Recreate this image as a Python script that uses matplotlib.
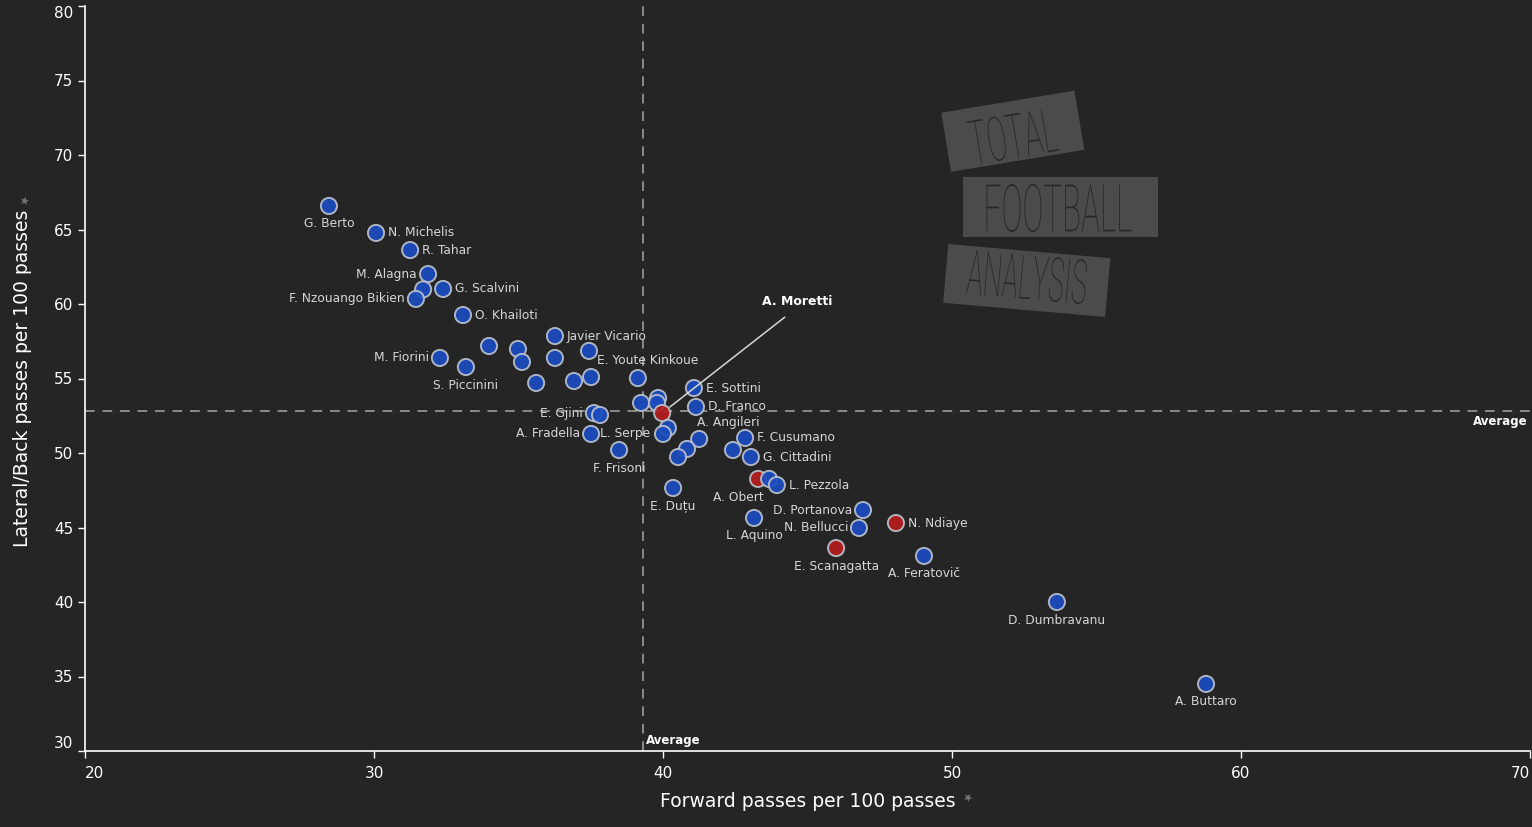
import matplotlib
matplotlib.use("Agg")
import matplotlib.pyplot as plt
from matplotlib.patches import Rectangle, PathPatch
from matplotlib.textpath import TextPath
from matplotlib.font_manager import FontProperties
from matplotlib.transforms import Affine2D

# ---------------- data ----------------
names = ["G. Berto", "N. Michelis", "R. Tahar", "M. Alagna", "", "G. Scalvini",
         "F. Nzouango Bikien", "O. Khailoti", "Javier Vicario", "", "", "", "", "",
         "M. Fiorini", "S. Piccinini", "", "", "", "E. Youte Kinkoue",
         "E. Sottini", "D. Franco", "", "", "", "A. Moretti", "E. Gjini", "L. Serpe",
         "A. Fradella", "", "", "F. Frisoni", "A. Angileri", "", "", "F. Cusumano",
         "", "G. Cittadini", "E. Duțu", "A. Obert", "", "L. Pezzola", "D. Portanova",
         "N. Bellucci", "L. Aquino", "N. Ndiaye", "E. Scanagatta", "A. Feratovič",
         "D. Dumbravanu", "A. Buttaro"]
forward = [28.44, 30.07, 31.25, 31.87, 31.70, 32.39,
           31.45, 33.08, 36.26, 33.98, 34.98, 35.12, 36.26, 37.44,
           32.28, 33.18, 35.61, 36.92, 37.51, 39.13,
           41.07, 41.14, 39.24, 39.83, 39.79, 39.97, 37.61, 37.82,
           37.51, 40.17, 40.00, 38.48, 41.25, 40.83, 40.52, 42.84,
           42.42, 43.04, 40.35, 43.29, 43.67, 43.94, 46.92,
           46.78, 43.15, 48.06, 45.99, 49.03,
           53.63, 58.79]
lateral = [66.58, 64.77, 63.62, 62.01, 60.98, 61.01,
           60.34, 59.26, 57.85, 57.18, 56.98, 56.11, 56.38, 56.85,
           56.38, 55.77, 54.70, 54.83, 55.10, 55.03,
           54.36, 53.09, 53.36, 53.69, 53.36, 52.68, 52.68, 52.55,
           51.28, 51.68, 51.28, 50.20, 50.94, 50.27, 49.73, 51.01,
           50.20, 49.73, 47.65, 48.26, 48.26, 47.85, 46.17,
           44.97, 45.64, 45.30, 43.62, 43.09,
           40.00, 34.50]
highlighted = ["A. Moretti", "A. Obert", "N. Ndiaye", "E. Scanagatta"]
avg_forward = 39.31
avg_lateral = 52.82
x_ticks = [20, 30, 40, 50, 60, 70]
y_ticks = [30, 35, 40, 45, 50, 55, 60, 65, 70, 75, 80]
x_title = "Forward passes per 100 passes"
y_title = "Lateral/Back passes per 100 passes"
focus_player = "A. Moretti"

# label placement (pixel offsets, style only)
R = (12, 0, "left")
L = (-11, 0, "right")
B = (0, -18, "center")
label_pos = {
    "G. Berto": B, "N. Michelis": R, "R. Tahar": R, "M. Alagna": L,
    "G. Scalvini": R, "F. Nzouango Bikien": L, "O. Khailoti": R,
    "Javier Vicario": R, "M. Fiorini": L, "S. Piccinini": B,
    "E. Youte Kinkoue": (10, 18, "center"), "E. Sottini": R, "D. Franco": R,
    "E. Gjini": L, "L. Serpe": (0, -18, "left"), "A. Fradella": L,
    "F. Frisoni": B, "A. Angileri": (29, 16, "center"), "F. Cusumano": R,
    "G. Cittadini": R, "E. Duțu": B, "A. Obert": (-20, -19, "center"),
    "L. Pezzola": R, "D. Portanova": L, "N. Bellucci": L, "L. Aquino": B,
    "N. Ndiaye": R, "E. Scanagatta": B, "A. Feratovič": B,
    "D. Dumbravanu": B, "A. Buttaro": B,
}

BG = "#252525"
BLUE = "#1b4cbf"
RED = "#b51d1d"
W, H = 1532, 827

fig = plt.figure(figsize=(W / 100, H / 100), dpi=100, facecolor=BG)
ax = fig.add_axes([85 / W, (H - 751) / H, (1530 - 85) / W, (751 - 6) / H])
ax.set_facecolor(BG)
ax.set_xlim(20, 70)
ax.set_ylim(30, 80)

for s in ["top", "right"]:
    ax.spines[s].set_visible(False)
for s in ["left", "bottom"]:
    ax.spines[s].set_color("white")
    ax.spines[s].set_linewidth(1.2)
ax.set_xticks(x_ticks)
ax.set_yticks(y_ticks)
ax.tick_params(colors="white", labelsize=11, length=5, width=1)
ax.tick_params(axis="x", pad=6)
for lab in ax.get_xticklabels() + ax.get_yticklabels():
    lab.set_color("white")
# keep the end labels inside the axis extent
xl = ax.get_xticklabels()
xl[0].set_ha("left")
xl[-1].set_ha("right")
yl = ax.get_yticklabels()
yl[0].set_va("bottom")
yl[-1].set_va("top")

ax.set_xlabel(x_title, color="white", fontsize=13.5, labelpad=8)
ax.set_ylabel(y_title, color="white", fontsize=13.5, labelpad=16)

# average lines
ax.axvline(avg_forward, color="#8a8a8a", lw=1.4, ls=(0, (5, 4)), zorder=1)
ax.axhline(avg_lateral, color="#8a8a8a", lw=1.4, ls=(0, (5, 4)), zorder=1)
ax.text(69.9, avg_lateral - 0.3, "Average", color="white", fontsize=8.5,
        fontweight="bold", ha="right", va="top")
ax.text(avg_forward + 0.1, 30.3, "Average", color="white", fontsize=8.5,
        fontweight="bold", ha="left", va="bottom")

cols = [RED if n in highlighted else BLUE for n in names]
ax.scatter(forward, lateral, s=135, c=cols, edgecolors="#b9c0cc",
           linewidths=1.4, alpha=0.92, zorder=3)

for n, x, y in zip(names, forward, lateral):
    if n in label_pos:
        dx, dy, ha = label_pos[n]
        ax.annotate(n, (x, y), xytext=(dx, dy), textcoords="offset pixels",
                    ha=ha, va="center", color="#d6d6d6", fontsize=8.8, zorder=4)
    if n == focus_player:
        ax.annotate(n, (x, y), xytext=(44.64, 60.2), textcoords="data",
                    ha="center", va="center", color="white", fontsize=9,
                    fontweight="bold", zorder=4,
                    arrowprops=dict(arrowstyle="-", color="#d8d8d8", lw=1.1,
                                    relpos=(0.5, 0), shrinkA=8, shrinkB=7))

# small pin marks after the axis titles
fig.text(966 / W, 1 - 799 / H, "\u2605", color="#777777", fontsize=8,
         ha="center", va="center", rotation=-30)
fig.text(26 / W, 1 - 201 / H, "\u2605", color="#777777", fontsize=8,
         ha="center", va="center", rotation=60)

# ---------------- logo ----------------
ov = fig.add_axes([0, 0, 1, 1])
ov.set_xlim(0, W)
ov.set_ylim(H, 0)
ov.axis("off")
ov.patch.set_alpha(0)

def rect(cx, cy, w, h, ang):
    ov.add_patch(Rectangle((cx - w / 2, cy - h / 2), w, h, angle=-ang,
                           rotation_point="center", facecolor="#4b4b4b",
                           edgecolor="none", zorder=1))

def logo_text(s, cx, cy, w, h, ang):
    tp = TextPath((0, 0), s, size=100,
                  prop=FontProperties(family=["Roboto", "DejaVu Sans"], weight="light"))
    ext = tp.get_extents()
    t = (Affine2D().translate(-(ext.x0 + ext.x1) / 2, -(ext.y0 + ext.y1) / 2)
         .scale(w / ext.width, -h / ext.height)
         .rotate_deg(-ang).translate(cx, cy))
    ov.add_patch(PathPatch(t.transform_path(tp), facecolor="#282828",
                           edgecolor="none", zorder=2))

rect(1012.75, 131.25, 135, 60, 9.4)
rect(1060.5, 207, 195, 60, 0)
rect(1026.75, 280.5, 162.6, 59, -5)
logo_text("TOTAL", 1013, 136, 87, 45, 9.4)
logo_text("FOOTBALL", 1059, 208, 145, 48, 0)
logo_text("ANALYSIS", 1027, 277, 119, 45, -5)

fig.savefig("out.png", dpi=100, facecolor=BG)
